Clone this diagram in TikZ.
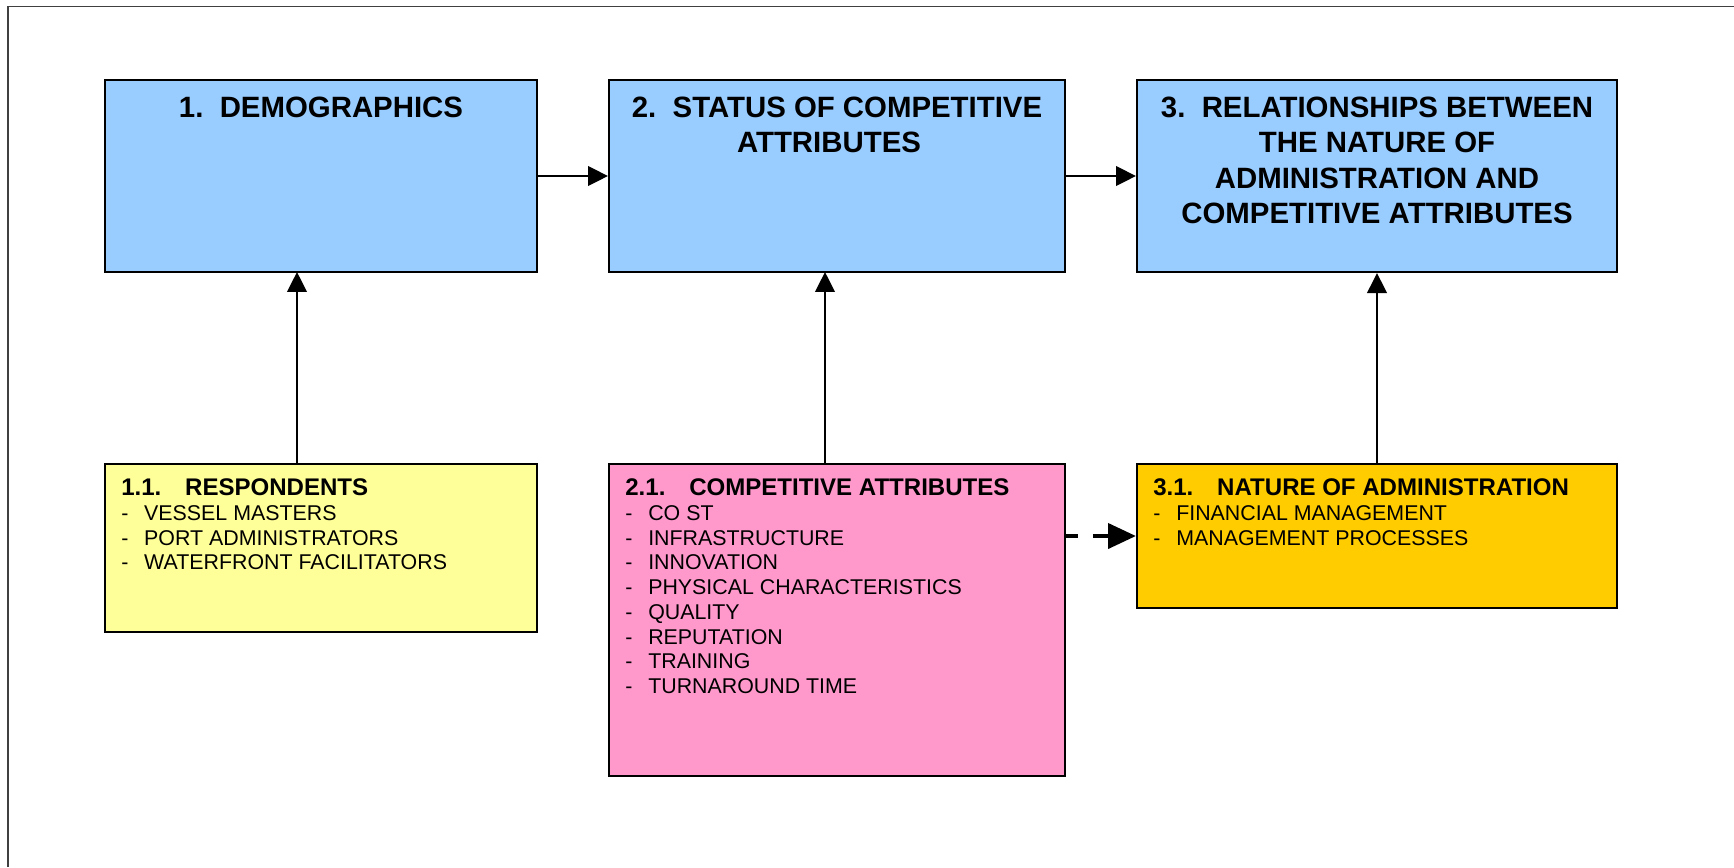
\documentclass[tikz,border=0pt]{standalone}
\usepackage{fontspec}
\setmainfont{Liberation Sans}
\usetikzlibrary{arrows.meta}
\definecolor{stageblue}{HTML}{99CCFF}
\definecolor{stageyellow}{HTML}{FFFF99}
\definecolor{stagepink}{HTML}{FF99CC}
\definecolor{stagegold}{HTML}{FFCC00}
\definecolor{framegray}{HTML}{404040}
\newcommand{\boxhead}[2]{\textbf{\fontsize{13.5}{13.9}\selectfont\makebox[35.9pt][l]{#1}#2}}
\newcommand{\boxitem}[1]{\makebox[12.9pt][l]{-}#1}
\begin{document}
% one unit = one pixel of the drawing, y grows downwards
\begin{tikzpicture}[x=0.5615pt,y=-0.5615pt,
  stagebox/.style={draw=black, line width=1.2pt, rectangle, inner sep=0pt},
  headtext/.style={anchor=north, inner sep=0pt, align=center,
    font=\bfseries\fontsize{16.5}{19.9}\selectfont},
  listtext/.style={anchor=north west, inner sep=0pt, align=left,
    font=\fontsize{12}{13.9}\selectfont},
  flow/.style={draw=black, line width=1.15pt,
    -{Triangle[length=11.2pt,width=11pt]}},
  dashflow/.style={draw=black, line width=2.4pt,
    dash pattern=on 9pt off 8.4pt, dash phase=2.3pt,
    -{Triangle[length=15.7pt,width=14pt]}}]

\useasboundingbox (0,0) rectangle (1734,867);
\fill[white] (0,0) rectangle (1734,867);

% page frame (top and left edges)
\draw[framegray, line width=0.9pt] (8,867) -- (8,6.5) -- (1734,6.5);

% main stages
\node[stagebox, fill=stageblue, minimum width=242.6pt, minimum height=107.8pt] (s1) at (321,176) {};
\node[stagebox, fill=stageblue, minimum width=256.0pt, minimum height=107.8pt] (s2) at (837,176) {};
\node[stagebox, fill=stageblue, minimum width=269.5pt, minimum height=107.8pt] (s3) at (1377,176) {};

\node[headtext] (h1) at ([shift={(0,17.5)}]s1.north) {1.\ \ DEMOGRAPHICS};
\node[headtext] (h2) at ([shift={(0,17.5)}]s2.north) {2.\ \ STATUS OF COMPETITIVE\\ATTRIBUTES\makebox[9pt]{}};
\node[headtext] (h3) at ([shift={(0,17.5)}]s3.north) {3.\ \ RELATIONSHIPS BETWEEN\\THE NATURE OF\\ADMINISTRATION AND\\COMPETITIVE ATTRIBUTES};

% detail boxes
\node[stagebox, fill=stageyellow, minimum width=242.6pt, minimum height=94.3pt] (d1) at (321,548) {};
\node[stagebox, fill=stagepink, minimum width=256.0pt, minimum height=175.2pt] (d2) at (837,620) {};
\node[stagebox, fill=stagegold, minimum width=269.5pt, minimum height=80.9pt] (d3) at (1377,536) {};

\node[listtext] (l1) at ([shift={(17,15.5)}]d1.north west) {%
  \boxhead{1.1.}{RESPONDENTS}\\
  \boxitem{VESSEL MASTERS}\\
  \boxitem{PORT ADMINISTRATORS}\\
  \boxitem{WATERFRONT FACILITATORS}};
\node[listtext] (l2) at ([shift={(17,15.5)}]d2.north west) {%
  \boxhead{2.1.}{COMPETITIVE ATTRIBUTES}\\
  \boxitem{CO ST}\\
  \boxitem{INFRASTRUCTURE}\\
  \boxitem{INNOVATION}\\
  \boxitem{PHYSICAL CHARACTERISTICS}\\
  \boxitem{QUALITY}\\
  \boxitem{REPUTATION}\\
  \boxitem{TRAINING}\\
  \boxitem{TURNAROUND TIME}};
\node[listtext] (l3) at ([shift={(17,15.5)}]d3.north west) {%
  \boxhead{3.1.}{NATURE OF ADMINISTRATION}\\
  \boxitem{FINANCIAL MANAGEMENT}\\
  \boxitem{MANAGEMENT PROCESSES}};

% connectors
\coordinate (d1top) at (297,464);
\coordinate (s1bot) at (297,272);
\coordinate (d2top) at (825,464);
\coordinate (s2bot) at (825,272);
\draw[flow] (s1.east) -- (s2.west);
\draw[flow] (s2.east) -- (s3.west);
\draw[flow] (d1top) -- (s1bot);
\draw[flow] (d2top) -- (s2bot);
\draw[flow] (d3.north) -- (s3.south);
\coordinate (d2side) at (d2.east |- 0,536);
\coordinate (d3side) at (d3.west |- 0,536);
\draw[dashflow] (d2side) -- (d3side);
\end{tikzpicture}
\end{document}
